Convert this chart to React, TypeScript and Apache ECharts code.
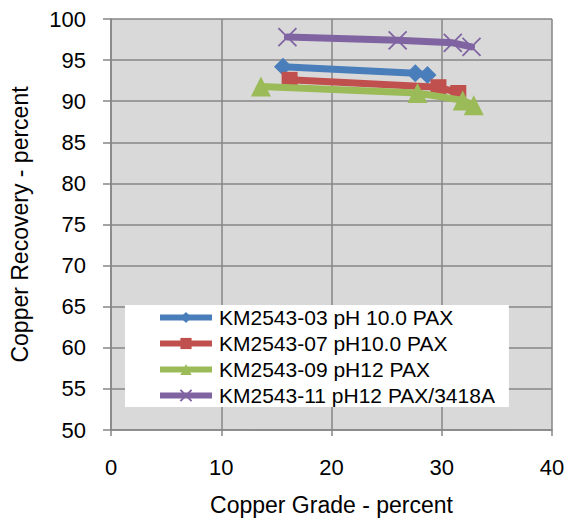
import React, { useEffect, useRef } from "react";
import * as echarts from "echarts";

const seriesNames = [
  "KM2543-03 pH 10.0 PAX",
  "KM2543-07 pH10.0 PAX",
  "KM2543-09 pH12 PAX",
  "KM2543-11 pH12 PAX/3418A",
];
const grade03 = [15.6, 27.6, 28.7];
const recovery03 = [94.2, 93.4, 93.2];
const grade07 = [16.2, 29.7, 31.5];
const recovery07 = [92.6, 91.7, 91.0];
const grade09 = [13.6, 27.8, 31.9, 32.9];
const recovery09 = [91.8, 91.0, 90.1, 89.5];
const grade11 = [16.0, 26.0, 31.0, 32.7];
const recovery11 = [97.8, 97.4, 97.1, 96.6];

const colors = ["#4A7EBB", "#C0504D", "#9BBB59", "#8064A2"];
const symbols = [
  "diamond",
  "rect",
  "triangle",
  "path://M0,0L10,10M10,0L0,10",
];
const symbolSizes = [18, 16, 20, 18];

const zip = (xs: number[], ys: number[]) => xs.map((x, i) => [x, ys[i]]);
const allData = [
  zip(grade03, recovery03),
  zip(grade07, recovery07),
  zip(grade09, recovery09),
  zip(grade11, recovery11),
];

const FONT = "'Liberation Sans', Arial, sans-serif";

export default function App() {
  const ref = useRef<HTMLDivElement>(null);
  useEffect(() => {
    if (!ref.current) return;
    const chart = echarts.init(ref.current, null, { renderer: "svg" });
    chart.setOption({
      animation: false,
      backgroundColor: "#ffffff",
      textStyle: { fontFamily: FONT },
      grid: { left: 111, right: 16, top: 19, bottom: 93, show: true, backgroundColor: "#D9D9D9", borderWidth: 0 },
      legend: {
        show: true,
        left: 125,
        top: 305,
        width: 390,
        orient: "vertical",
        backgroundColor: "#ffffff",
        padding: [2, 14, 1, 32],
        itemWidth: 52,
        itemHeight: 14,
        itemGap: 5,
        data: seriesNames,
        lineStyle: { width: 6, cap: "butt" },
        textStyle: { fontSize: 21, color: "#000", fontFamily: FONT, padding: [0, 0, 0, 2] },
      },
      xAxis: {
        type: "value",
        min: 0,
        max: 40,
        interval: 10,
        name: "Copper Grade - percent",
        nameLocation: "middle",
        nameGap: 63,
        nameTextStyle: { fontSize: 23, color: "#000", fontFamily: FONT },
        axisLine: { show: true, lineStyle: { color: "#868686", width: 1.5 } },
        axisTick: { show: true, length: 6, lineStyle: { color: "#868686", width: 1.5 } },
        axisLabel: { fontSize: 22, color: "#000", margin: 26, fontFamily: FONT },
        splitLine: { show: true, lineStyle: { color: "#868686", width: 1.5 } },
      },
      yAxis: {
        type: "value",
        min: 50,
        max: 100,
        interval: 5,
        name: "Copper Recovery - percent",
        nameLocation: "middle",
        nameGap: 80,
        nameTextStyle: { fontSize: 23, color: "#000", fontFamily: FONT },
        axisLine: { show: true, lineStyle: { color: "#868686", width: 1.5 } },
        axisTick: { show: true, length: 8, lineStyle: { color: "#868686", width: 1.5 } },
        axisLabel: { fontSize: 22, color: "#000", margin: 25, fontFamily: FONT },
        splitLine: { show: true, lineStyle: { color: "#868686", width: 1.5 } },
      },
      series: seriesNames.map((name, i) => ({
        name,
        type: "line",
        data: allData[i],
        symbol: symbols[i],
        symbolSize: symbolSizes[i],
        showAllSymbol: true,
        lineStyle: { color: colors[i], width: 7, cap: "round", join: "round" },
        itemStyle: {
          color: colors[i],
          borderColor: colors[i],
          borderWidth: i === 3 ? 1.8 : 0,
        },
        z: 2 + i,
      })),
    });
    return () => chart.dispose();
  }, []);
  return (
    <div
      ref={ref}
      style={{ position: "fixed", left: 0, top: 0, width: 568, height: 523 }}
    />
  );
}
